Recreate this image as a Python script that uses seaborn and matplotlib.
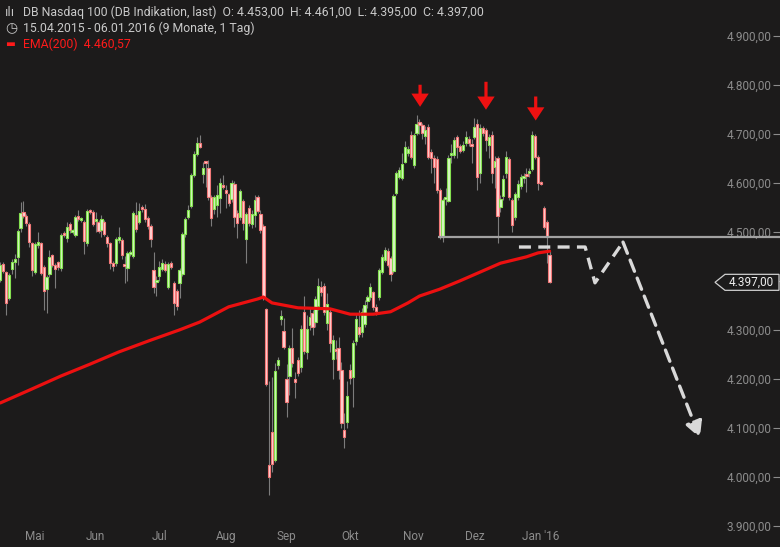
import numpy as np
import pandas as pd
import matplotlib
matplotlib.use("Agg")
import matplotlib.pyplot as plt
import matplotlib.transforms as mtransforms
from matplotlib.patches import Polygon
from matplotlib.ticker import FuncFormatter, MultipleLocator
import seaborn as sns

# --- daily candles, 15.04.2015 - 06.01.2016 (weekdays) ---
dates = pd.bdate_range("2015-04-15", "2016-01-06")

opens = [4402, 4434, 4418, 4365, 4424, 4438, 4449, 4508, 4540, 4532,
         4516, 4477, 4418, 4473, 4477, 4428, 4383, 4414, 4453, 4432,
         4438, 4426, 4498, 4487, 4516, 4500, 4494, 4532, 4524, 4520,
         4477, 4543, 4541, 4522, 4520, 4504, 4520, 4490, 4477, 4436,
         4436, 4483, 4483, 4434, 4426, 4455, 4451, 4534, 4520, 4550,
         4547, 4528, 4512, 4422, 4398, 4410, 4424, 4434, 4388, 4436,
         4396, 4379, 4396, 4414, 4496, 4530, 4553, 4616, 4659, 4681,
         4618, 4642, 4630, 4571, 4547, 4555, 4569, 4596, 4585, 4577,
         4567, 4598, 4538, 4530, 4563, 4485, 4549, 4516, 4534, 4571,
         4536, 4512, 4343, 4024, 4092, 4035, 4228, 4322, 4298, 4200,
         4206, 4263, 4200, 4239, 4224, 4337, 4255, 4310, 4334, 4316,
         4349, 4388, 4390, 4314, 4337, 4241, 4261, 4263, 4218, 4096,
         4112, 4218, 4204, 4277, 4306, 4296, 4312, 4359, 4367, 4377,
         4347, 4367, 4418, 4443, 4461, 4447, 4420, 4579, 4612, 4610,
         4643, 4661, 4698, 4636, 4702, 4724, 4718, 4696, 4714, 4663,
         4651, 4649, 4585, 4490, 4567, 4563, 4657, 4657, 4694, 4675,
         4667, 4681, 4690, 4677, 4694, 4720, 4620, 4712, 4708, 4677,
         4698, 4632, 4651, 4551, 4573, 4620, 4649, 4565, 4530, 4571,
         4594, 4610, 4616, 4620, 4628, 4695, 4653, 4602, 4549, 4520,
         4453]
highs = [4438, 4438, 4420, 4416, 4445, 4455, 4506, 4561, 4563, 4536,
         4520, 4480, 4480, 4500, 4480, 4432, 4412, 4463, 4455, 4436,
         4441, 4498, 4502, 4520, 4520, 4506, 4535, 4545, 4530, 4525,
         4547, 4547, 4545, 4540, 4525, 4535, 4525, 4494, 4480, 4440,
         4490, 4510, 4488, 4450, 4461, 4463, 4542, 4560, 4559, 4555,
         4556, 4532, 4516, 4459, 4410, 4440, 4445, 4440, 4438, 4440,
         4400, 4383, 4426, 4500, 4530, 4555, 4620, 4665, 4694, 4697,
         4643, 4645, 4647, 4575, 4575, 4595, 4610, 4616, 4595, 4580,
         4606, 4604, 4545, 4587, 4567, 4540, 4555, 4545, 4575, 4575,
         4545, 4515, 4345, 4195, 4204, 4232, 4245, 4341, 4324, 4230,
         4270, 4304, 4215, 4245, 4310, 4369, 4330, 4345, 4340, 4370,
         4405, 4400, 4395, 4375, 4345, 4290, 4280, 4285, 4235, 4130,
         4195, 4230, 4280, 4335, 4340, 4345, 4360, 4372, 4395, 4380,
         4352, 4426, 4455, 4470, 4468, 4451, 4577, 4625, 4632, 4660,
         4685, 4675, 4705, 4702, 4738, 4730, 4722, 4715, 4720, 4668,
         4656, 4655, 4590, 4570, 4590, 4656, 4680, 4693, 4698, 4680,
         4686, 4705, 4695, 4690, 4733, 4730, 4720, 4716, 4712, 4700,
         4705, 4655, 4655, 4575, 4615, 4665, 4653, 4570, 4582, 4605,
         4618, 4620, 4630, 4630, 4706, 4700, 4657, 4604, 4553, 4525,
         4461]
lows = [4398, 4416, 4330, 4360, 4415, 4405, 4433, 4500, 4528, 4512,
        4470, 4410, 4414, 4468, 4412, 4340, 4335, 4408, 4428, 4385,
        4422, 4420, 4490, 4480, 4498, 4496, 4490, 4522, 4520, 4455,
        4472, 4537, 4512, 4500, 4498, 4490, 4492, 4470, 4425, 4420,
        4430, 4478, 4445, 4395, 4400, 4450, 4447, 4500, 4515, 4540,
        4520, 4506, 4470, 4375, 4370, 4400, 4420, 4418, 4384, 4424,
        4330, 4340, 4365, 4410, 4490, 4526, 4548, 4612, 4655, 4670,
        4600, 4592, 4565, 4512, 4537, 4530, 4538, 4588, 4549, 4553,
        4560, 4510, 4487, 4525, 4503, 4436, 4512, 4508, 4510, 4538,
        4498, 4360, 4185, 3963, 4010, 4030, 4220, 4310, 4260, 4122,
        4167, 4225, 4161, 4205, 4215, 4250, 4240, 4300, 4290, 4305,
        4340, 4370, 4330, 4300, 4255, 4200, 4240, 4200, 4100, 4060,
        4100, 4190, 4143, 4270, 4285, 4285, 4305, 4345, 4360, 4340,
        4330, 4360, 4414, 4438, 4428, 4400, 4416, 4575, 4608, 4605,
        4640, 4655, 4648, 4630, 4698, 4700, 4690, 4680, 4648, 4620,
        4600, 4580, 4486, 4480, 4555, 4560, 4640, 4650, 4650, 4660,
        4662, 4675, 4676, 4640, 4690, 4585, 4600, 4695, 4665, 4650,
        4600, 4590, 4478, 4540, 4565, 4610, 4565, 4500, 4525, 4565,
        4588, 4600, 4581, 4612, 4624, 4648, 4585, 4596, 4505, 4437,
        4395]
closes = [4432, 4420, 4355, 4412, 4438, 4445, 4502, 4538, 4532, 4518,
          4479, 4422, 4475, 4479, 4416, 4379, 4408, 4449, 4432, 4424,
          4428, 4494, 4494, 4510, 4504, 4502, 4530, 4526, 4527, 4481,
          4543, 4541, 4516, 4526, 4502, 4526, 4496, 4477, 4436, 4430,
          4485, 4490, 4453, 4430, 4457, 4459, 4538, 4506, 4543, 4547,
          4526, 4512, 4485, 4388, 4402, 4428, 4436, 4422, 4434, 4428,
          4355, 4349, 4422, 4496, 4526, 4545, 4616, 4659, 4681, 4673,
          4630, 4640, 4571, 4528, 4571, 4575, 4600, 4592, 4579, 4559,
          4600, 4530, 4518, 4583, 4518, 4536, 4518, 4536, 4565, 4543,
          4504, 4365, 4190, 4000, 4026, 4216, 4238, 4328, 4265, 4153,
          4263, 4232, 4194, 4212, 4302, 4257, 4302, 4326, 4306, 4363,
          4390, 4377, 4337, 4353, 4273, 4279, 4257, 4218, 4110, 4082,
          4165, 4202, 4273, 4322, 4292, 4337, 4351, 4367, 4388, 4347,
          4339, 4422, 4449, 4463, 4432, 4414, 4573, 4620, 4626, 4638,
          4673, 4669, 4653, 4698, 4720, 4718, 4702, 4708, 4653, 4651,
          4632, 4585, 4490, 4565, 4571, 4651, 4661, 4687, 4673, 4665,
          4677, 4694, 4681, 4675, 4714, 4612, 4712, 4702, 4687, 4694,
          4620, 4645, 4532, 4567, 4608, 4653, 4571, 4514, 4577, 4598,
          4612, 4614, 4614, 4624, 4698, 4653, 4600, 4598, 4510, 4490,
          4397]

# EMA(200) (candle index, value)
ema_idx = [0, 10, 21, 31, 41, 52, 62, 69, 79, 89, 91, 94, 103, 114, 121,
           129, 135, 141, 145, 152, 159, 166, 173, 182, 186, 190]
ema_val = [4151, 4177, 4206, 4230, 4255, 4279, 4300, 4316, 4347, 4363, 4367,
           4355, 4345, 4343, 4332, 4332, 4337, 4355, 4369, 4383, 4400, 4418,
           4436, 4449, 4457, 4460.57]

# support line (Nov low) and projected path
support_level = 4489
support_start = 151.5
proj_idx = [179.4, 202.3, 205.7, 215.4, 242.0]
proj_val = [4469, 4469, 4396, 4479, 4080]

# top markers
peak_idx = [145.2, 168.0, 185.2]
peak_top = [4800, 4806, 4776]
peak_tip = [4755, 4749, 4727]

month_labels = ["Mai", "Jun", "Jul", "Aug", "Sep", "Okt", "Nov", "Dez", "Jan '16"]

bg = "#1c1b1b"
txt = "#8c8c8c"


def de_fmt(v):
    return f"{v:,.2f}".replace(",", "X").replace(".", ",").replace("X", ".")


sns.set_theme(style="dark", rc={"axes.facecolor": bg, "figure.facecolor": bg})
plt.rcParams["font.family"] = ["Roboto", "DejaVu Sans"]

df = pd.DataFrame({"date": dates, "open": opens, "high": highs,
                   "low": lows, "close": closes})
df["x"] = np.arange(len(df))
df["up"] = df["close"] >= df["open"]
last = closes[-1]

fig = plt.figure(figsize=(7.8, 5.47), dpi=100)
ax = fig.add_axes([0, 0, 1, 1])
ax.set_facecolor(bg)
for s in ax.spines.values():
    s.set_visible(False)

# wicks
ax.vlines(df["x"], df["low"], df["high"], color="#7c7c7c", lw=0.8, zorder=2)

# bodies
body_low = df[["open", "close"]].min(axis=1)
body_h = (df["close"] - df["open"]).abs().clip(lower=3.5)
fills = np.where(df["up"], "#d6f7c4", "#ffd2d2")
edges = np.where(df["up"], "#84e050", "#f27878")
ax.bar(df["x"], body_h, bottom=body_low, width=0.78, color=fills,
       edgecolor=edges, linewidth=0.8, zorder=3)

# EMA
sns.lineplot(x=ema_idx, y=ema_val, ax=ax, color="#ec1010", lw=2.3, zorder=4)

# support line
ax.hlines(support_level, support_start, 275, color="#a2a2a2", lw=1.6, zorder=5)

# projection
ax.plot(proj_idx[:-1], proj_val[:-1], color="#d9d9d9", lw=2.4,
        dashes=(3.6, 2.2), zorder=6, solid_joinstyle="miter")
ax.annotate("", xy=(proj_idx[-1], proj_val[-1]),
            xytext=(proj_idx[-2], proj_val[-2]),
            arrowprops=dict(arrowstyle="-|>,head_length=0.95,head_width=0.5",
                            mutation_scale=10, lw=2.4, color="#d9d9d9",
                            linestyle=(0, (3.6, 2.2)), shrinkA=0, shrinkB=0),
            zorder=6)

# red arrows over the three tops
for xi, top, tip in zip(peak_idx, peak_top, peak_tip):
    ax.annotate("", xy=(xi, tip), xytext=(xi, top),
                arrowprops=dict(arrowstyle="simple,head_length=9.5,head_width=12.5,tail_width=2.3",
                                mutation_scale=1, fc="#ee1111", ec="none",
                                shrinkA=0, shrinkB=0), zorder=7)

ax.set_xlim(-0.1, 269.7)
ax.set_ylim(3857.2, 4972.8)

# axes ticks drawn inside
month_starts = pd.date_range("2015-05-01", "2016-01-01", freq="MS")
ax.set_xticks(dates.searchsorted(month_starts))
ax.set_xticklabels(month_labels)
ax.yaxis.tick_right()
ax.yaxis.set_major_locator(MultipleLocator(100))
# the level hidden behind the last-price tag gets no label
ax.yaxis.set_major_formatter(FuncFormatter(
    lambda v, p: "" if abs(v - last) < 20 else de_fmt(v)))
ax.tick_params(axis="y", direction="in", length=5, width=0.8, color=txt,
               labelcolor=txt, labelsize=8.5, pad=-6, right=True, labelright=True,
               left=False, labelleft=False)
ax.tick_params(axis="x", direction="in", length=3, width=0.8, color=txt,
               labelcolor=txt, labelsize=8.5, pad=-12)
for lab in ax.get_yticklabels():
    lab.set_horizontalalignment("right")
ax.grid(False)

# last price tag
tr = mtransforms.blended_transform_factory(ax.transAxes, ax.transData)
hh = 8 * (4972.8 - 3857.2) / 547
tag = Polygon([(715 / 780, last), (725 / 780, last + hh), (779 / 780, last + hh),
               (779 / 780, last - hh), (725 / 780, last - hh)],
              closed=True, transform=tr, fc=bg, ec="#cfcfcf", lw=0.9, zorder=8)
ax.add_patch(tag)
ax.text(751 / 780, last, de_fmt(last), transform=tr, ha="center", va="center",
        color="#eeeeee", fontsize=8.5, zorder=9)


# header
def fy(py):
    return 1 - py / 547


hdr = dict(fontsize=8.8, va="center")
fig.text(23 / 780, fy(12), "DB Nasdaq 100 (DB Indikation, last)  O: 4.453,00  H: 4.461,00  L: 4.395,00  C: 4.397,00",
         color="#c9c9c9", **hdr)
fig.text(23 / 780, fy(28), "15.04.2015 - 06.01.2016 (9 Monate, 1 Tag)", color="#c9c9c9", **hdr)
fig.text(23 / 780, fy(44), "EMA(200)  4.460,57", color="#ff1a1a", **hdr)
fig.text(5 / 780, fy(12), "ılı", color="#c9c9c9", fontsize=8.5, va="center", family=["DejaVu Sans"])
fig.text(5 / 780, fy(28), "◷", color="#c9c9c9", fontsize=10, va="center", family=["DejaVu Sans"])
fig.text(5 / 780, fy(44), "▬", color="#ff1a1a", fontsize=7.5, va="center", family=["DejaVu Sans"])

fig.savefig("out.png", dpi=100, facecolor=bg)
